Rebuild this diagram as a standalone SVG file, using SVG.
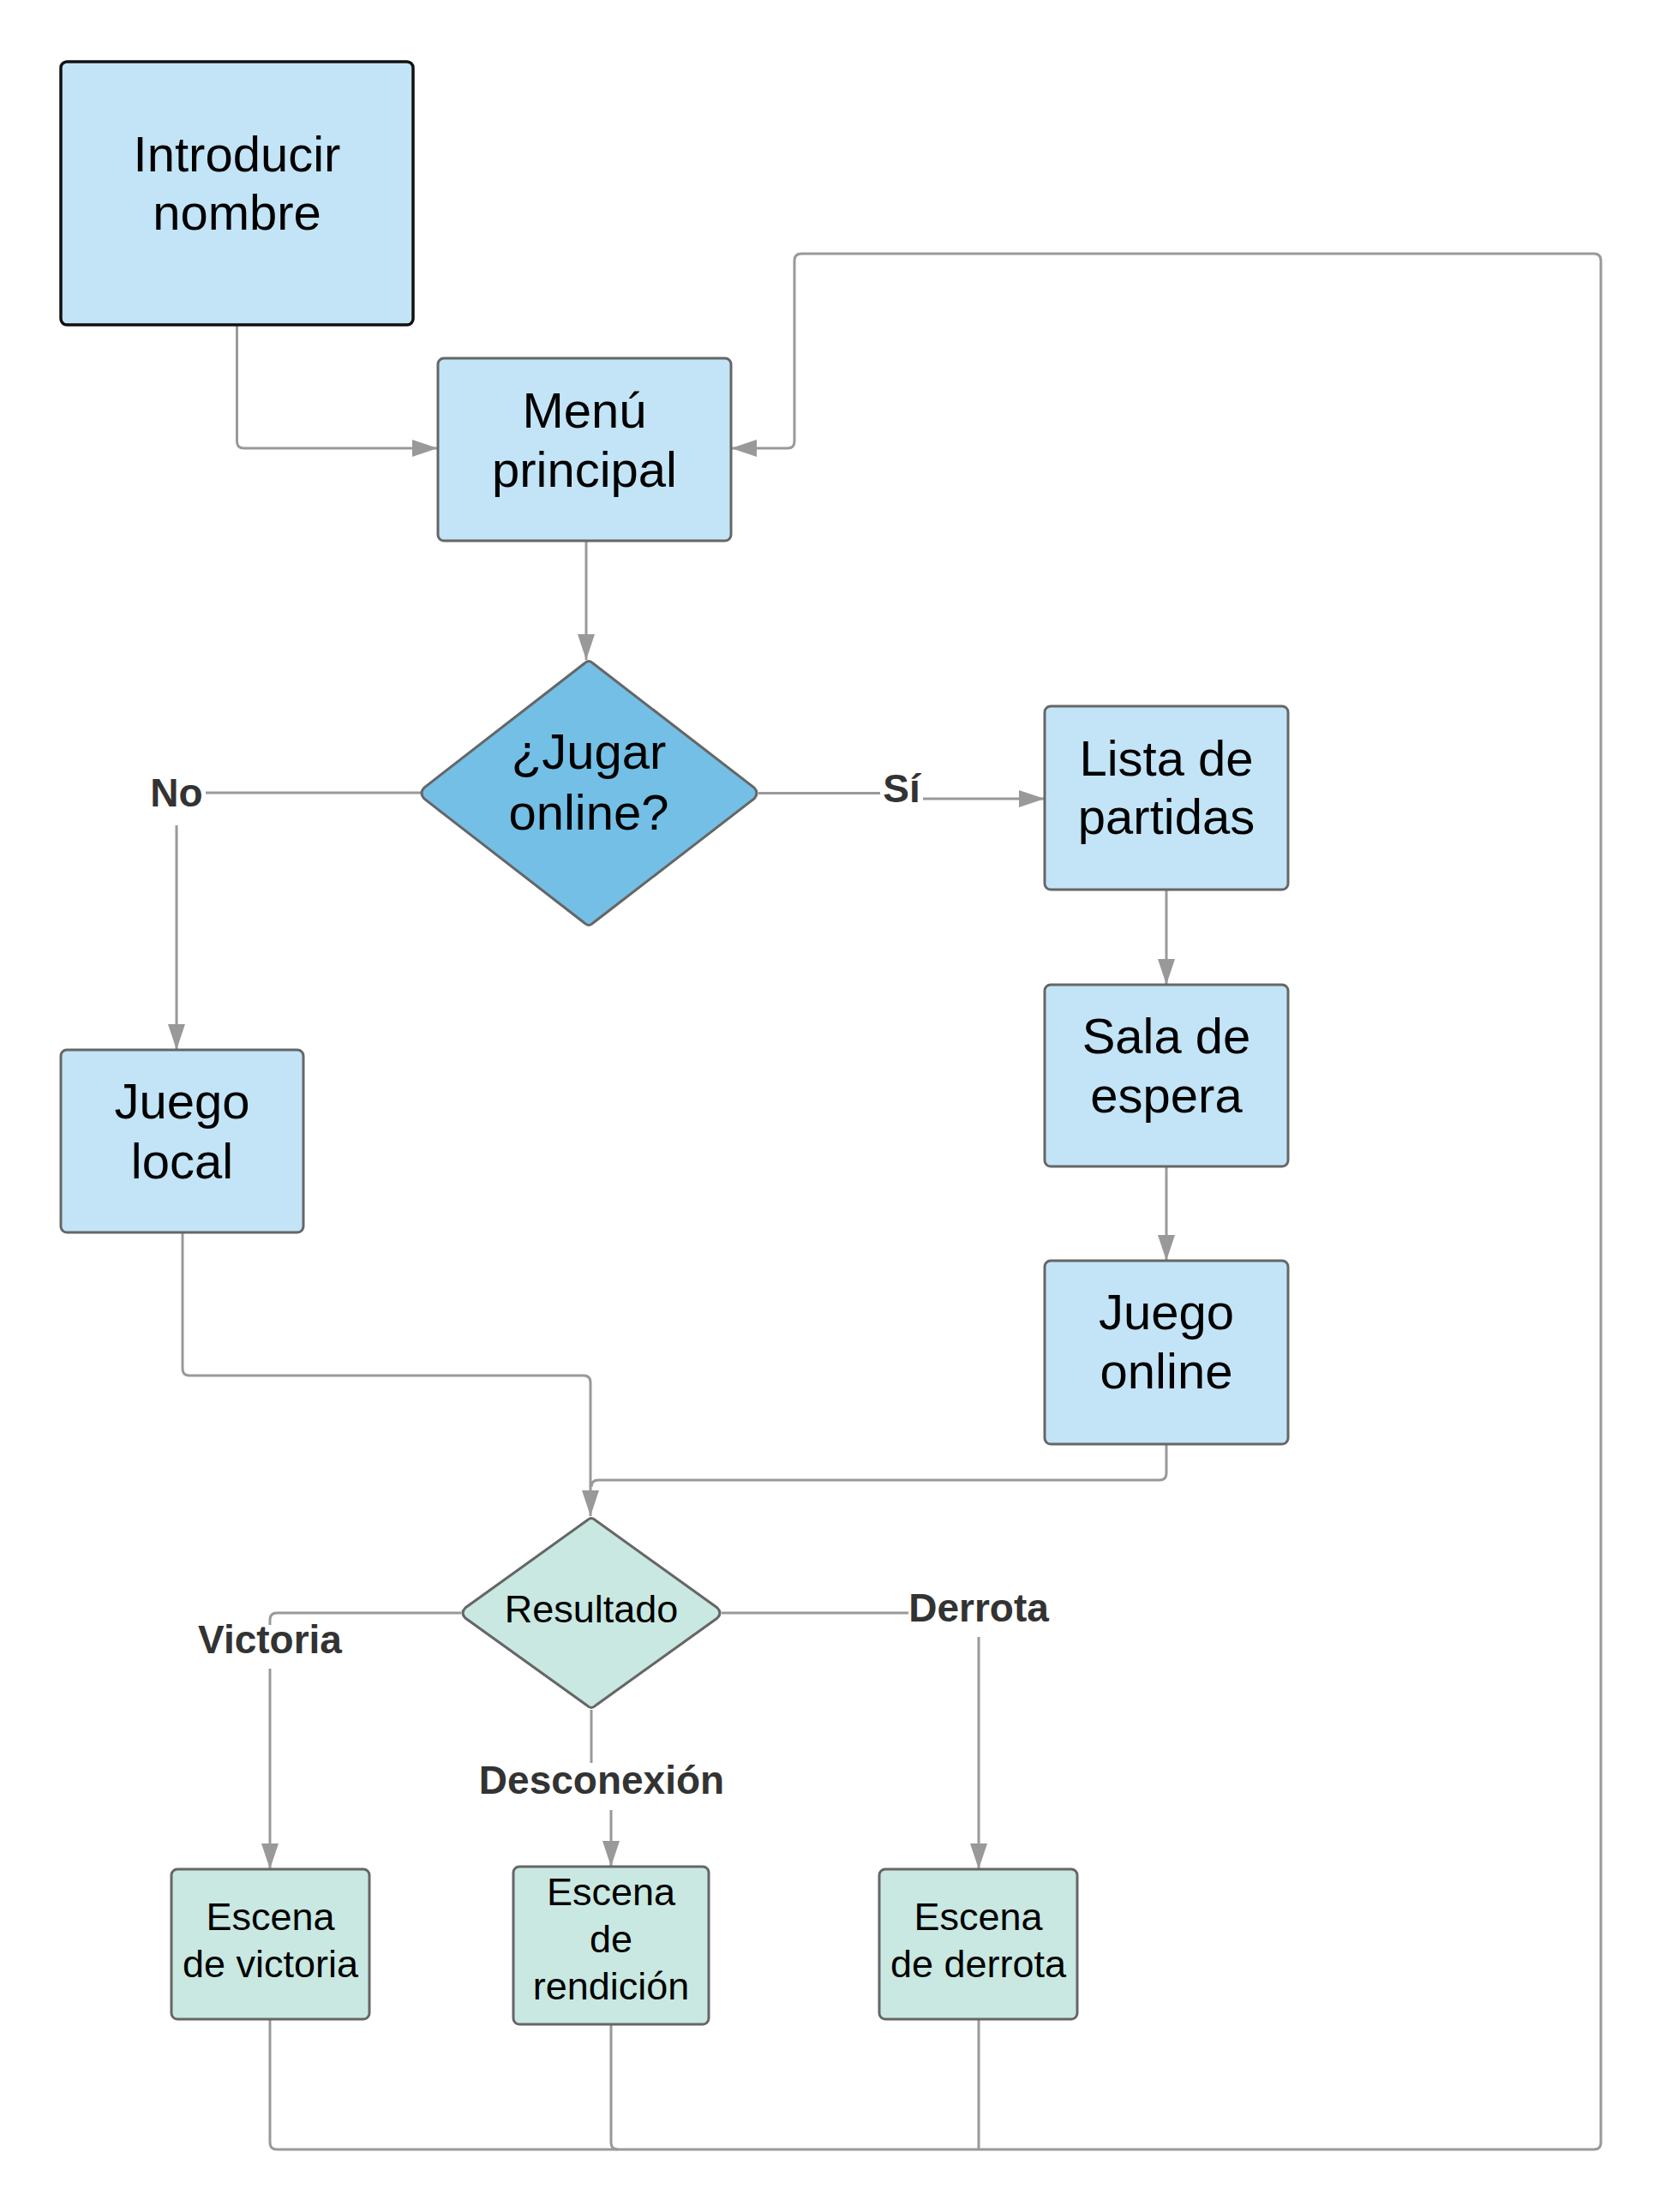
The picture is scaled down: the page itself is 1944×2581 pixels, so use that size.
<svg xmlns="http://www.w3.org/2000/svg" width="1944" height="2581" viewBox="0 0 1944 2581">
  <defs>
    <marker id="arrow" viewBox="0 0 30 20" refX="30" refY="10" markerWidth="30" markerHeight="20" markerUnits="userSpaceOnUse" orient="auto">
      <path d="M0,0 L30,10 L0,20 Z" fill="#999999"/>
    </marker>
    <style>
      .box { stroke: #666666; stroke-width: 3; }
      .blue { fill: #c2e4f6; }
      .dblue { fill: #74bfe5; }
      .teal { fill: #c8e8e1; }
      .start { stroke: #111111; stroke-width: 3.5; }
      .t { font-family: "Liberation Sans", Arial, sans-serif; fill: #000000; text-anchor: middle; }
      .big { font-size: 58px; }
      .small { font-size: 45px; }
      .lbl { font-family: "Liberation Sans", Arial, sans-serif; font-weight: bold; font-size: 46px; fill: #333333; text-anchor: middle; }
      .conn { fill: none; stroke: #999999; stroke-width: 3; stroke-linejoin: round; }
    </style>
  </defs>
  <rect width="1944" height="2581" fill="#ffffff"/>

  <!-- connectors -->
  <g id="connectors">
    <!-- Introducir nombre -> Menu principal -->
    <path class="conn" d="M276.5,379 V515 Q276.5,523 284.5,523 H511" marker-end="url(#arrow)"/>
    <!-- Menu principal -> decision -->
    <path class="conn" d="M684,631 V770" marker-end="url(#arrow)"/>
    <!-- decision -> No -> Juego local -->
    <path class="conn" d="M491,925 H240"/>
    <path class="conn" d="M206,963 V1225" marker-end="url(#arrow)"/>
    <!-- decision -> Si -> Lista de partidas -->
    <path class="conn" d="M885,925.5 H1027"/>
    <path class="conn" d="M1077,932 H1219" marker-end="url(#arrow)"/>
    <!-- Lista -> Sala -> Juego online -->
    <path class="conn" d="M1361,1038 V1149" marker-end="url(#arrow)"/>
    <path class="conn" d="M1361,1361 V1471" marker-end="url(#arrow)"/>
    <!-- Juego local -> Resultado -->
    <path class="conn" d="M213,1438 V1597 Q213,1605 221,1605 H681 Q689,1605 689,1613 V1769" marker-end="url(#arrow)"/>
    <!-- Juego online -> Resultado -->
    <path class="conn" d="M1361,1685 V1719 Q1361,1727 1353,1727 H698 Q690,1727 690,1735"/>
    <!-- Resultado -> Victoria -->
    <path class="conn" d="M538,1882 H323 Q315,1882 315,1890 V1896"/>
    <path class="conn" d="M315,1947 V2181" marker-end="url(#arrow)"/>
    <!-- Resultado -> Desconexion -->
    <path class="conn" d="M690,1995 V2057"/>
    <path class="conn" d="M713,2112 V2178" marker-end="url(#arrow)"/>
    <!-- Resultado -> Derrota -->
    <path class="conn" d="M842,1882 H1060"/>
    <path class="conn" d="M1142,1910 V2181" marker-end="url(#arrow)"/>
    <!-- scenes back to Menu principal -->
    <path class="conn" d="M315,2356 V2500 Q315,2508 323,2508 H1860 Q1868,2508 1868,2500 V304 Q1868,296 1860,296 H935 Q927,296 927,304 V515 Q927,523 919,523 H853" marker-end="url(#arrow)"/>
    <path class="conn" d="M713,2362 V2500 Q713,2508 721,2508"/>
    <path class="conn" d="M1142,2356 V2508"/>
  </g>

  <!-- edge labels -->
  <g id="edge-labels">
    <text class="lbl" x="206" y="941">No</text>
    <text class="lbl" x="1052" y="936">Sí</text>
    <text class="lbl" x="315" y="1929">Victoria</text>
    <text class="lbl" x="702" y="2093">Desconexión</text>
    <text class="lbl" x="1142" y="1892">Derrota</text>
  </g>

  <g id="introducir-nombre">
    <rect class="blue start" x="71" y="72" width="411" height="307" rx="7"/>
    <text class="t big" x="276.5" y="200">Introducir</text>
    <text class="t big" x="276.5" y="268">nombre</text>
  </g>

  <g id="menu-principal">
    <rect class="blue box" x="511" y="418" width="342" height="213" rx="7"/>
    <text class="t big" x="682" y="499">Menú</text>
    <text class="t big" x="682" y="568">principal</text>
  </g>

  <g id="jugar-online">
    <path class="dblue box" d="M682,774 Q687,769 692,774 L880,919 Q886,925.5 880,932 L692,1077 Q687,1082 682,1077 L495,932 Q489,925.5 495,919 Z"/>
    <text class="t big" x="687" y="897">¿Jugar</text>
    <text class="t big" x="687" y="968">online?</text>
  </g>

  <g id="lista-de-partidas">
    <rect class="blue box" x="1219" y="824" width="284" height="214" rx="7"/>
    <text class="t big" x="1361" y="905">Lista de</text>
    <text class="t big" x="1361" y="973">partidas</text>
  </g>

  <g id="sala-de-espera">
    <rect class="blue box" x="1219" y="1149" width="284" height="212" rx="7"/>
    <text class="t big" x="1361" y="1229">Sala de</text>
    <text class="t big" x="1361" y="1298">espera</text>
  </g>

  <g id="juego-online">
    <rect class="blue box" x="1219" y="1471" width="284" height="214" rx="7"/>
    <text class="t big" x="1361" y="1551">Juego</text>
    <text class="t big" x="1361" y="1620">online</text>
  </g>

  <g id="juego-local">
    <rect class="blue box" x="71" y="1225" width="283" height="213" rx="7"/>
    <text class="t big" x="212.5" y="1305">Juego</text>
    <text class="t big" x="212.5" y="1375">local</text>
  </g>

  <g id="resultado">
    <path class="teal box" d="M685,1774 Q690,1769 695,1774 L837,1876 Q843,1882 837,1888 L695,1990 Q690,1995 685,1990 L543,1888 Q537,1882 543,1876 Z"/>
    <text class="t small" x="690" y="1893">Resultado</text>
  </g>

  <g id="escena-victoria">
    <rect class="teal box" x="200" y="2181" width="231" height="175" rx="7"/>
    <text class="t small" x="315.5" y="2252">Escena</text>
    <text class="t small" x="315.5" y="2307">de victoria</text>
  </g>

  <g id="escena-rendicion">
    <rect class="teal box" x="599" y="2178" width="228" height="184" rx="7"/>
    <text class="t small" x="713" y="2223">Escena</text>
    <text class="t small" x="713" y="2278">de</text>
    <text class="t small" x="713" y="2333">rendición</text>
  </g>

  <g id="escena-derrota">
    <rect class="teal box" x="1026" y="2181" width="231" height="175" rx="7"/>
    <text class="t small" x="1141.5" y="2252">Escena</text>
    <text class="t small" x="1141.5" y="2307">de derrota</text>
  </g>
</svg>
